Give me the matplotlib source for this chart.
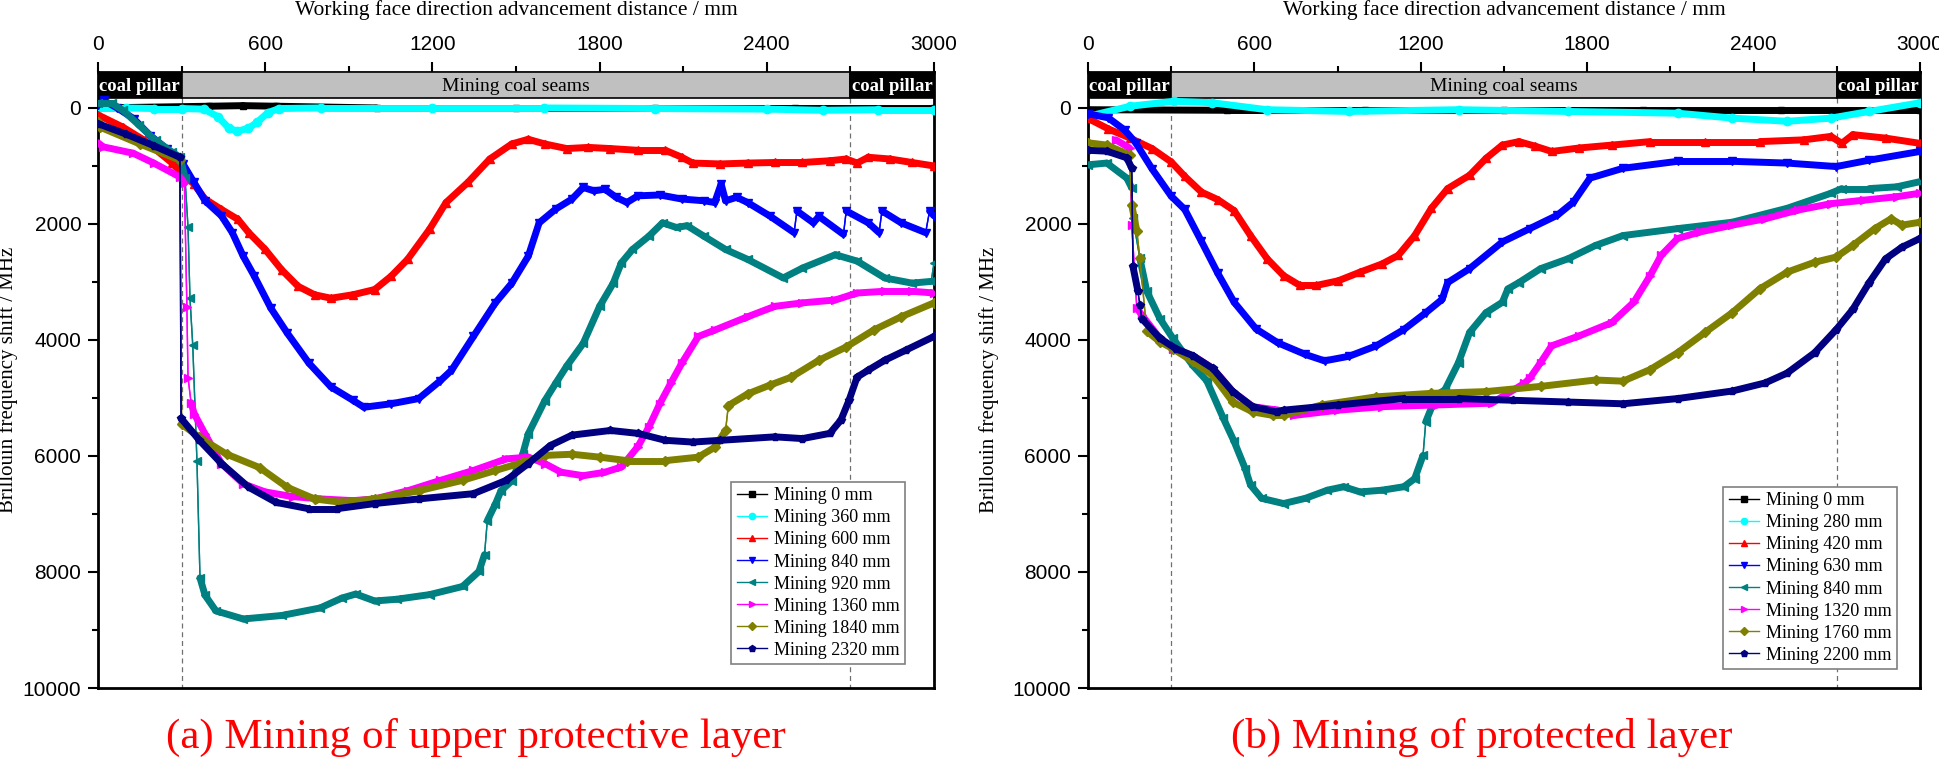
import numpy as np
import matplotlib.pyplot as plt
from matplotlib.collections import LineCollection
from matplotlib.patches import Rectangle

plt.rcParams['font.family'] = ['Liberation Serif', 'DejaVu Serif']

# ---------------- panel (a): mining of upper protective layer ----------------
a_x_0 = [0, 400, 520, 640, 1000, 1500, 2000, 2500, 3000]
a_y_0 = [0, -30, -40, -30, 0, 0, 0, 0, 0]

a_x_360 = [0, 100, 200, 300, 380, 430, 470, 500, 540, 570, 610, 650, 800, 1200,
           1600, 2000, 2400, 2600, 2800, 3000]
a_y_360 = [0, 0, 10, 10, 20, 150, 350, 400, 350, 250, 80, 10, 0, 0,
           0, 10, 20, 40, 30, 30]

a_x_600 = [0, 89, 167, 266, 305, 344, 384, 443, 502, 541, 600, 659, 718, 777, 836,
           915, 993, 1052, 1111, 1190, 1249, 1328, 1406, 1485, 1544, 1603, 1682,
           1760, 1839, 1937, 2036, 2095, 2134, 2233, 2331, 2429, 2528, 2626, 2685,
           2724, 2764, 2842, 2921, 3000]
a_y_600 = [120, 330, 560, 950, 1150, 1310, 1570, 1750, 1920, 2150, 2440, 2790, 3075,
           3220, 3280, 3220, 3130, 2900, 2610, 2090, 1630, 1280, 880, 620, 540, 620,
           700, 680, 700, 730, 730, 850, 950, 965, 950, 940, 940, 910, 880, 950,
           850, 880, 940, 1000]

a_x_840 = [0, 20, 69, 128, 187, 246, 305, 344, 384, 443, 482, 521, 561, 620, 679,
           757, 836, 915, 954, 1052, 1151, 1229, 1269, 1347, 1426, 1485, 1544, 1583,
           1642, 1701, 1741, 1780, 1819, 1859, 1898, 1937, 2016, 2095, 2174, 2213,
           2236, 2252, 2292, 2331, 2410, 2498, 2508, 2567, 2587, 2675, 2685, 2764,
           2803, 2813, 2882, 2970, 2984, 3000]
a_y_840 = [-50, -130, 0, 185, 475, 700, 965, 1280, 1600, 1860, 2150, 2555, 2900,
           3450, 3880, 4400, 4810, 5040, 5160, 5100, 5010, 4700, 4520, 3940, 3360,
           3020, 2555, 1980, 1745, 1570, 1370, 1430, 1400, 1540, 1630, 1515, 1500,
           1570, 1600, 1630, 1310, 1600, 1540, 1630, 1860, 2150, 1775, 1980, 1870,
           2180, 1775, 1980, 2150, 1775, 1980, 2150, 1775, 1860]

a_x_920 = [0, 49, 89, 148, 207, 266, 295, 312, 323, 330, 340, 355, 366, 384, 423,
           521, 659, 797, 875, 925, 993, 1072, 1190, 1308, 1367, 1387, 1397, 1426,
           1446, 1485, 1524, 1544, 1603, 1642, 1682, 1741, 1800, 1849, 1878, 1918,
           1977, 2026, 2075, 2114, 2174, 2252, 2331, 2459, 2528, 2646, 2724, 2823,
           2921, 2990, 3000]
a_y_920 = [-80, -80, 40, 300, 560, 760, 850, 1200, 2055, 3280, 4090, 6080, 8100,
           8400, 8670, 8810, 8750, 8620, 8450, 8380, 8500, 8470, 8390, 8250, 7990,
           7700, 7115, 6830, 6600, 6430, 5970, 5620, 5050, 4750, 4450, 4060, 3420,
           3020, 2670, 2440, 2210, 1980, 2060, 2030, 2210, 2440, 2610, 2930, 2760,
           2530, 2640, 2930, 3020, 2990, 2670]

a_x_1360 = [0, 18, 126, 200, 294, 310, 319, 323, 334, 345, 384, 443, 521, 600, 698,
            797, 915, 993, 1111, 1229, 1347, 1465, 1544, 1603, 1662, 1741, 1819,
            1878, 1937, 1977, 2016, 2055, 2095, 2154, 2213, 2331, 2429, 2528, 2646,
            2724, 2823, 2921, 3000]
a_y_1360 = [600, 670, 780, 950, 1190, 1300, 3440, 4650, 5080, 5270, 5620, 6130,
            6480, 6620, 6700, 6740, 6770, 6740, 6600, 6420, 6250, 6050, 6020, 6130,
            6280, 6340, 6280, 6190, 5840, 5500, 5100, 4750, 4400, 3940, 3830, 3600,
            3420, 3360, 3310, 3190, 3160, 3160, 3190]

a_x_1840 = [0, 7, 150, 294, 300, 364, 462, 580, 679, 777, 875, 993, 1151, 1308,
            1426, 1524, 1603, 1701, 1800, 1898, 2036, 2154, 2213, 2252, 2262, 2331,
            2410, 2488, 2587, 2685, 2783, 2882, 3000]
a_y_1840 = [250, 330, 620, 900, 5450, 5680, 5970, 6200, 6540, 6740, 6800, 6740,
            6600, 6420, 6250, 6110, 5990, 5970, 6020, 6080, 6080, 6020, 5850, 5560,
            5130, 4930, 4780, 4640, 4350, 4120, 3830, 3600, 3360]

a_x_2320 = [0, 100, 200, 294, 298, 364, 443, 541, 639, 757, 856, 993, 1151, 1347,
            1465, 1544, 1623, 1701, 1839, 1937, 2036, 2134, 2233, 2429, 2528, 2626,
            2666, 2695, 2724, 2764, 2823, 2901, 3000]
a_y_2320 = [270, 450, 650, 850, 5350, 5730, 6130, 6540, 6800, 6910, 6910, 6820,
            6740, 6650, 6420, 6130, 5820, 5640, 5560, 5610, 5730, 5760, 5730, 5670,
            5700, 5610, 5380, 5040, 4640, 4520, 4350, 4170, 3940]

a_labels = ['Mining 0 mm', 'Mining 360 mm', 'Mining 600 mm', 'Mining 840 mm',
            'Mining 920 mm', 'Mining 1360 mm', 'Mining 1840 mm', 'Mining 2320 mm']

# ---------------- panel (b): mining of protected layer ----------------
b_x_0 = [0, 500, 1000, 1500, 2000, 2500, 3000]
b_y_0 = [30, 40, 40, 40, 40, 40, 40]

b_x_280 = [0, 152, 310, 448, 645, 942, 1336, 1731, 2126, 2323, 2521, 2679, 2817, 3000]
b_y_280 = [145, -30, -115, -90, 30, 60, 30, 60, 90, 175, 230, 175, 60, -90]

b_x_420 = [0, 73, 152, 231, 300, 349, 409, 468, 527, 586, 646, 705, 764, 823, 902,
           981, 1060, 1119, 1178, 1238, 1297, 1376, 1435, 1494, 1554, 1613, 1672,
           1771, 1889, 2027, 2225, 2422, 2580, 2679, 2718, 2758, 2876, 3000]
b_y_420 = [180, 360, 520, 700, 930, 1180, 1450, 1580, 1770, 2200, 2600, 2890, 3060,
           3060, 2980, 2830, 2690, 2540, 2200, 1730, 1390, 1160, 870, 640, 580, 660,
           750, 690, 640, 580, 580, 580, 550, 490, 610, 460, 520, 610]

b_x_630 = [0, 73, 132, 172, 231, 300, 349, 409, 468, 527, 606, 685, 784, 853, 942,
           1040, 1139, 1218, 1277, 1297, 1376, 1494, 1593, 1692, 1751, 1810, 1929,
           2126, 2323, 2521, 2698, 2817, 3000]
b_y_630 = [100, 170, 380, 600, 1050, 1520, 1750, 2300, 2850, 3350, 3810, 4050, 4250,
           4360, 4280, 4100, 3820, 3530, 3300, 3010, 2770, 2310, 2080, 1850, 1620,
           1210, 1040, 920, 920, 950, 1010, 900, 750]

b_x_840 = [0, 68, 140, 158, 162, 187, 212, 259, 306, 378, 428, 488, 527, 567, 586,
           626, 705, 784, 863, 922, 981, 1060, 1139, 1178, 1208, 1218, 1257, 1287,
           1336, 1376, 1435, 1494, 1514, 1554, 1632, 1731, 1830, 1929, 2126, 2323,
           2521, 2679, 2718, 2817, 2916, 3000]
b_y_840 = [980, 950, 1210, 1380, 1900, 2590, 3160, 3630, 3970, 4440, 4700, 5350,
           5750, 6220, 6500, 6730, 6820, 6730, 6590, 6530, 6620, 6590, 6530, 6390,
           5990, 5410, 4950, 4860, 4390, 3870, 3530, 3350, 3120, 3010, 2770, 2600,
           2370, 2200, 2080, 1970, 1730, 1470, 1390, 1390, 1360, 1270]

b_x_1320 = [100, 150, 158, 176, 194, 259, 306, 378, 450, 522, 594, 685, 744, 902,
            1060, 1257, 1455, 1573, 1593, 1632, 1672, 1771, 1889, 1968, 2027, 2067,
            2126, 2205, 2323, 2442, 2560, 2679, 2797, 2916, 3000]
b_y_1320 = [550, 690, 2020, 3450, 3570, 3970, 4150, 4270, 4490, 4890, 5150, 5210,
            5300, 5210, 5150, 5120, 5090, 4750, 4660, 4390, 4100, 3930, 3700, 3350,
            2890, 2540, 2250, 2140, 2020, 1910, 1760, 1650, 1590, 1530, 1470]

b_x_1760 = [0, 68, 150, 158, 176, 187, 212, 259, 306, 378, 450, 522, 594, 666, 705,
            843, 1040, 1238, 1435, 1632, 1830, 1929, 2027, 2126, 2225, 2323, 2422,
            2521, 2620, 2698, 2758, 2837, 2896, 2935, 3000]
b_y_1760 = [600, 640, 810, 1680, 2120, 2590, 3850, 4030, 4150, 4370, 4610, 5070,
            5240, 5300, 5300, 5120, 4980, 4920, 4890, 4800, 4690, 4710, 4510, 4220,
            3870, 3530, 3120, 2830, 2660, 2570, 2370, 2080, 1910, 2020, 1970]

b_x_2200 = [0, 68, 140, 158, 162, 180, 187, 194, 259, 317, 378, 450, 522, 594, 680,
            705, 902, 1139, 1336, 1534, 1731, 1929, 2126, 2323, 2442, 2521, 2620,
            2698, 2758, 2817, 2876, 2935, 3000]
b_y_2200 = [730, 745, 860, 1040, 2730, 3160, 3400, 3630, 3970, 4150, 4270, 4490,
            4890, 5150, 5240, 5210, 5120, 5010, 5010, 5040, 5070, 5100, 5010, 4880,
            4740, 4570, 4220, 3820, 3470, 3010, 2600, 2400, 2250]

b_labels = ['Mining 0 mm', 'Mining 280 mm', 'Mining 420 mm', 'Mining 630 mm',
            'Mining 840 mm', 'Mining 1320 mm', 'Mining 1760 mm', 'Mining 2200 mm']

colors = ['black', '#00ffff', '#ff0000', '#0000ff', '#008080', '#ff00ff',
          '#808000', '#000080']
markers = ['s', 'o', '^', 'v', '<', '>', 'D', 'p']

zones = [(0, 300, 'coal pillar'), (300, 2700, 'Mining coal seams'),
         (2700, 3000, 'coal pillar')]
pillar_edges = [300, 2700]
y_top, bar_bottom, y_max = -620, -170, 10000


def draw_series(ax, x, y, color, marker, label, z):
    x = np.asarray(x, float)
    y = np.asarray(y, float)
    pts = np.column_stack([x, y])
    segs = np.stack([pts[:-1], pts[1:]], axis=1)
    # steep jumps are drawn thin, like the sparse points in the original
    slope = np.abs(np.diff(y)) / np.diff(x)
    widths = np.where(slope > 25, 1.0, 5.0)
    lc = LineCollection(segs, colors=color, linewidths=widths,
                        capstyle='round', zorder=z)
    ax.add_collection(lc)
    ms = 5 if marker in ('D', 's') else 6
    ax.plot(x, y, color=color, lw=1.0, marker=marker, ms=ms, mfc=color,
            mec=color, label=label, zorder=z + 0.5)


def setup(ax, ylab_x):
    ax.set_xlim(0, 3000)
    ax.set_ylim(y_max, y_top)
    ax.xaxis.tick_top()
    ax.set_xticks(np.arange(0, 3001, 600))
    ax.set_xticks(np.arange(300, 3000, 600), minor=True)
    ax.set_yticks(np.arange(0, 10001, 2000))
    ax.set_yticks(np.arange(1000, 10000, 2000), minor=True)
    ax.tick_params(axis='x', which='major', direction='out', length=7, width=1.5,
                   pad=6, labelsize=15, top=True, bottom=False)
    ax.tick_params(axis='x', which='minor', direction='out', length=4, width=1.5,
                   top=True, bottom=False)
    ax.tick_params(axis='y', which='major', direction='out', length=7, width=1.5,
                   pad=5, labelsize=15, left=True, right=False)
    ax.tick_params(axis='y', which='minor', direction='out', length=4, width=1.5,
                   left=True, right=False)
    for lab in ax.get_xticklabels() + ax.get_yticklabels():
        lab.set_fontfamily('Liberation Sans')
    for sp in ax.spines.values():
        sp.set_linewidth(2)
    ax.set_ylabel('Brillouin frequency shift / MHz', fontsize=15)
    ax.yaxis.set_label_coords(ylab_x, 0.5)
    ax.text(0.5, 1.1006, 'Working face direction advancement distance / mm',
            transform=ax.transAxes, ha='center', va='center', fontsize=15.5)

    for x0, x1, name in zones:
        pillar = name == 'coal pillar'
        ax.add_patch(Rectangle((x0, y_top), x1 - x0, bar_bottom - y_top,
                               fc='black' if pillar else '#c0c0c0', ec='black',
                               lw=1.2, zorder=3))
        ax.text((x0 + x1) / 2, (y_top + bar_bottom) / 2 + 20, name,
                color='white' if pillar else 'black',
                fontweight='bold' if pillar else 'normal',
                fontsize=13.5 if pillar else 14, ha='center', va='center',
                zorder=4)
    ax.vlines(pillar_edges, bar_bottom, y_max, colors='#707070', lw=0.9,
              linestyles=(0, (4, 3)), zorder=1)


fig = plt.figure(figsize=(19.4, 7.62), dpi=100)
ax_a = fig.add_axes([0.05052, 0.09711, 0.43093, 0.8084])
ax_b = fig.add_axes([0.56082, 0.09711, 0.42887, 0.8084])

a_series = [(a_x_0, a_y_0), (a_x_360, a_y_360), (a_x_600, a_y_600),
            (a_x_840, a_y_840), (a_x_920, a_y_920), (a_x_1360, a_y_1360),
            (a_x_1840, a_y_1840), (a_x_2320, a_y_2320)]
b_series = [(b_x_0, b_y_0), (b_x_280, b_y_280), (b_x_420, b_y_420),
            (b_x_630, b_y_630), (b_x_840, b_y_840), (b_x_1320, b_y_1320),
            (b_x_1760, b_y_1760), (b_x_2200, b_y_2200)]

for ax, series, labels, ylab_x, anchor in [
        (ax_a, a_series, a_labels, -0.0955, (0.976, 0.024)),
        (ax_b, b_series, b_labels, -0.107, (0.983, 0.016))]:
    setup(ax, ylab_x)
    for i, (x, y) in enumerate(series):
        draw_series(ax, x, y, colors[i], markers[i], labels[i], 5 + i)
    leg = ax.legend(loc='lower right', bbox_to_anchor=anchor, fontsize=13,
                    fancybox=False, edgecolor='#808080', framealpha=1,
                    handlelength=1.7, labelspacing=0.28, borderpad=0.3,
                    handletextpad=0.35, markerscale=0.75)
    leg.set_zorder(20)
    leg.get_frame().set_linewidth(1.2)

fig.text(476 / 1940, 1 - 737 / 762, '(a) Mining of upper protective layer',
         color='red', fontsize=31, ha='center', va='center')
fig.text(1482 / 1940, 1 - 737 / 762, '(b) Mining of protected layer',
         color='red', fontsize=31, ha='center', va='center')

fig.savefig('out.png', dpi=100)
